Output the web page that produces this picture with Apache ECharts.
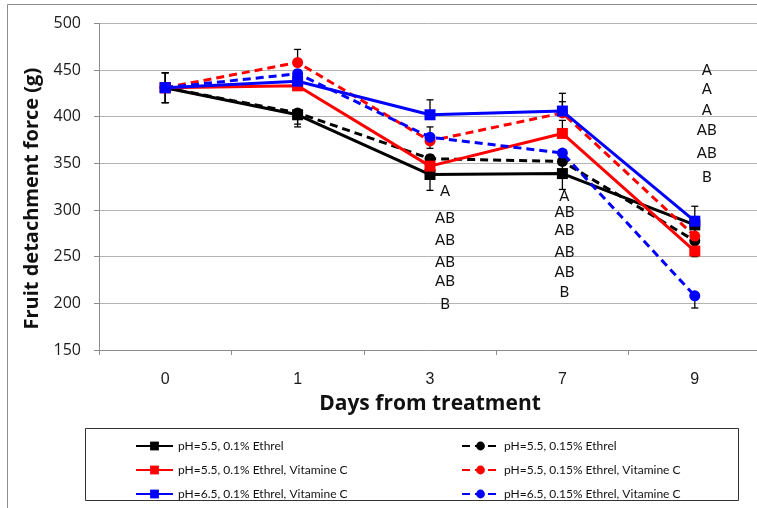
<!DOCTYPE html>
<html>
<head>
<meta charset="utf-8">
<script src="https://cdn.jsdelivr.net/npm/echarts@6/dist/echarts.min.js"></script>
<style>html,body{margin:0;padding:0;background:#fff;}#c{width:757px;height:508px;}</style>
</head>
<body>
<div id="c"></div>
<script>
// ---- data ----
const days = ['0', '1', '3', '7', '9'];
const names = [
  'pH=5.5, 0.1% Ethrel',
  'pH=5.5, 0.15% Ethrel',
  'pH=5.5, 0.1% Ethrel, Vitamine C',
  'pH=5.5, 0.15% Ethrel, Vitamine C',
  'pH=6.5, 0.1% Ethrel, Vitamine C',
  'pH=6.5, 0.15% Ethrel, Vitamine C'
];
const ph55_01 = [431, 402, 338, 339, 284];
const ph55_015 = [431, 404, 355, 352, 267];
const ph55_01_vc = [431, 433, 347, 382, 256];
const ph55_015_vc = [431, 458, 374, 404, 272];
const ph65_01_vc = [431, 438, 402, 406, 288];
const ph65_015_vc = [431, 446, 378, 361, 208];
// error magnitudes
const err55_01 = [16, 13, 17, 17, 12];
const err55_015 = [16, 12, 12, 12, 17];
const err55_01_vc = [16, 12, 12, 14, 10];
const err55_015_vc = [16, 14, 15, 12, 12];
const err65_01_vc = [16, 12, 16, 19, 16];
const err65_015_vc = [16, 12, 12, 12, 13];
// significance letters
const lettersDay3 = ['A', 'AB', 'AB', 'AB', 'AB', 'B'];
const lettersDay3Y = [320, 291, 268, 244, 224, 199];
const lettersDay7 = ['A', 'AB', 'AB', 'AB', 'AB', 'B'];
const lettersDay7Y = [315, 298, 278, 255, 233, 212];
const lettersDay9 = ['A', 'A', 'A', 'AB', 'AB', 'B'];
const lettersDay9Y = [450, 429, 407, 386, 361, 335];
const yTicks = {min: 150, max: 500, step: 50};

// ---- chart ----
const font = 'Lato, "Open Sans", sans-serif';
const font2 = '"Open Sans", Lato, sans-serif';
const seriesDefs = [
  {name: names[0], data: ph55_01, err: err55_01, dir: -1, color: '#000000', dash: 'solid', sym: 'rect'},
  {name: names[1], data: ph55_015, err: err55_015, dir: -1, color: '#000000', dash: [8, 5], sym: 'circle'},
  {name: names[2], data: ph55_01_vc, err: err55_01_vc, dir: 1, color: '#ff0000', dash: 'solid', sym: 'rect'},
  {name: names[3], data: ph55_015_vc, err: err55_015_vc, dir: 1, color: '#ff0000', dash: [8, 5], sym: 'circle'},
  {name: names[4], data: ph65_01_vc, err: err65_01_vc, dir: 1, color: '#0000ff', dash: 'solid', sym: 'rect'},
  {name: names[5], data: ph65_015_vc, err: err65_015_vc, dir: -1, color: '#0000ff', dash: [8, 5], sym: 'circle'}
];

const series = [];
seriesDefs.forEach((d, k) => {
  series.push({
    type: 'custom',
    silent: true,
    z: 3,
    encode: {x: 0, y: [1, 2]},
    data: d.data.map((v, i) => [i, v, v + d.dir * d.err[i]]),
    renderItem: function (params, api) {
      const p = api.coord([api.value(0), api.value(1)]);
      const e = api.coord([api.value(0), api.value(2)]);
      const st = {stroke: '#000', lineWidth: 1.3};
      return {
        type: 'group',
        children: [
          {type: 'line', shape: {x1: p[0], y1: p[1], x2: e[0], y2: e[1]}, style: st},
          {type: 'line', shape: {x1: e[0] - 3.5, y1: e[1], x2: e[0] + 3.5, y2: e[1]}, style: st}
        ]
      };
    }
  });
  series.push({
    type: 'line',
    name: d.name,
    data: d.data,
    z: 4 + k,
    symbol: d.sym,
    symbolSize: 11,
    showAllSymbol: true,
    itemStyle: {color: d.color, borderWidth: 0},
    lineStyle: {color: d.color, width: 3, type: d.dash},
    emphasis: {disabled: true}
  });
});

function letterSeries(dayIdx, letters, ys, dx) {
  return {
    type: 'scatter',
    silent: true,
    z: 20,
    symbolSize: 0,
    itemStyle: {opacity: 1},
    data: ys.map((y, i) => [dayIdx, y, letters[i]]),
    label: {
      show: true,
      position: 'inside',
      offset: [dx, 0],
      formatter: p => p.value[2],
      color: '#111111',
      opacity: 1,
      fontFamily: font,
      fontSize: 15
    }
  };
}
series.push(letterSeries(2, lettersDay3, lettersDay3Y, 15));
series.push(letterSeries(3, lettersDay7, lettersDay7Y, 2));
series.push(letterSeries(4, lettersDay9, lettersDay9Y, 12));

const legendCommon = {
  orient: 'vertical',
  top: 434,
  itemWidth: 37,
  itemHeight: 11,
  itemGap: 10,
  selectedMode: false,
  textStyle: {fontFamily: font, fontSize: 12, color: '#111', lineHeight: 14}
};

const chart = echarts.init(document.getElementById('c'), null, {renderer: 'canvas'});
chart.setOption({
  animation: false,
  backgroundColor: '#ffffff',
  grid: {left: 99, top: 23.3, width: 662, height: 326.7, containLabel: false, outerBoundsMode: 'none'},
  xAxis: {
    type: 'category',
    data: days,
    boundaryGap: true,
    name: 'Days from treatment',
    nameLocation: 'middle',
    nameGap: 44,
    nameTextStyle: {fontFamily: font2, fontWeight: 'bold', fontSize: 21, color: '#111'},
    axisLine: {lineStyle: {color: '#8c8c8c', width: 1}},
    axisTick: {show: true, length: 5, lineStyle: {color: '#8c8c8c'}},
    axisLabel: {margin: 22, fontFamily: '"Liberation Sans", Arial, sans-serif', fontSize: 16, color: '#1a1a1a'},
    splitLine: {show: false}
  },
  yAxis: {
    type: 'value',
    min: yTicks.min,
    max: yTicks.max,
    interval: yTicks.step,
    name: 'Fruit detachment force (g)',
    nameLocation: 'middle',
    nameGap: 56,
    nameRotate: 90,
    nameTextStyle: {fontFamily: font2, fontWeight: 'bold', fontSize: 20, color: '#111', padding: [0, 24, 0, 0]},
    axisLine: {show: true, lineStyle: {color: '#8c8c8c', width: 1}},
    axisTick: {show: true, length: 5, lineStyle: {color: '#8c8c8c'}},
    axisLabel: {margin: 18, fontFamily: font2, fontSize: 16, color: '#1a1a1a'},
    splitLine: {show: true, lineStyle: {color: '#b4b4b4', width: 1}}
  },
  legend: [
    Object.assign({left: 130, data: [names[0], names[2], names[4]]}, legendCommon),
    Object.assign({left: 456, data: [names[1], names[3], names[5]]}, legendCommon)
  ],
  graphic: [
    {type: 'rect', silent: true, z: -10, shape: {x: 7.5, y: 4.5, width: 800, height: 600}, style: {fill: null, stroke: '#8c8c8c', lineWidth: 1}},
    {type: 'rect', silent: true, z: -5, shape: {x: 85.5, y: 428.5, width: 653, height: 72}, style: {fill: null, stroke: '#333', lineWidth: 1}}
  ],
  series: series
});
</script>
</body>
</html>
